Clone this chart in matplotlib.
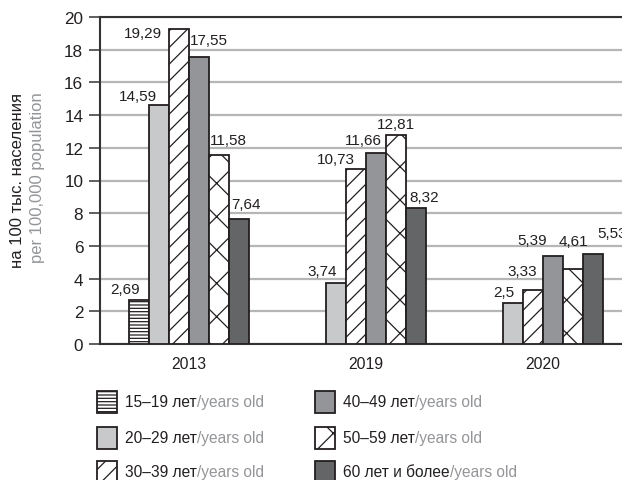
import numpy as np
import matplotlib
matplotlib.use("Agg")
import matplotlib.pyplot as plt
from matplotlib.patches import Rectangle

# ---------------- data ----------------
years = ["2013", "2019", "2020"]
series_ru = ["15–19 лет", "20–29 лет", "30–39 лет", "40–49 лет", "50–59 лет", "60 лет и более"]
series_en = "/years old"
values = {
    "15–19 лет":      [2.69, np.nan, np.nan],
    "20–29 лет":      [14.59, 3.74, 2.5],
    "30–39 лет":      [19.29, 10.73, 3.33],
    "40–49 лет":      [17.55, 11.66, 5.39],
    "50–59 лет":      [11.58, 12.81, 4.61],
    "60 лет и более": [7.64, 8.32, 5.53],
}
yticks = list(range(0, 21, 2))
ylabel_ru = "на 100 тыс. населения"
ylabel_en = "per 100,000 population"

# ---------------- style ----------------
plt.rcParams['font.family'] = ['Liberation Sans', 'DejaVu Sans']
plt.rcParams['hatch.linewidth'] = 0.9
BLACK = "#231f20"
GRAY_TXT = "#939598"
faces = ["white", "#c8c9cb", "white", "#939598", "white", "#646567"]
hatches = ["-----", None, "//", None, "x", None]

# label offsets (pixels) relative to bar top centre
label_offsets = [
    [(-14, 11), None, None],
    [(-21, 9), (-14, 12), (-9, 11)],
    [(-36, -4), (-20, 10), (-11, 19)],
    [(10, 17), (-13, 13), (-21, 16)],
    [(9, 15), (0, 11), (0, 28)],
    [(6.5, 15), (8, 11), (19, 21)],
]

W, H = 622, 481
fig = plt.figure(figsize=(W / 100, H / 100), dpi=100)
ax = fig.add_axes([100 / W, 136 / H, 532 / W, 327 / H])

x = np.arange(len(years))
bw = 20 / 177
n = len(series_ru)
for i, name in enumerate(series_ru):
    xs = x + (i - (n - 1) / 2) * bw
    vals = np.array(values[name], dtype=float)
    mask = ~np.isnan(vals)
    ax.bar(xs[mask], vals[mask], width=bw, color=faces[i], edgecolor=BLACK,
           linewidth=1.3, hatch=hatches[i], zorder=3)
    for j in range(len(years)):
        if not mask[j]:
            continue
        dx, dy = label_offsets[i][j]
        txt = ("%g" % vals[j]).replace(".", ",")
        ax.annotate(txt, xy=(xs[j], vals[j]), xytext=(dx, dy),
                    textcoords="offset pixels", ha="center", va="center",
                    fontsize=11, color=BLACK, zorder=5, annotation_clip=False)

ax.set_xlim(-0.503, 2.503)
ax.set_ylim(0, 20)
ax.set_yticks(yticks)
ax.set_yticklabels([str(t) for t in yticks], fontsize=12.3, color=BLACK)
ax.set_xticks(x)
ax.set_xticklabels(years, fontsize=11.3, color=BLACK)
ax.tick_params(axis="x", length=0, pad=9)
ax.tick_params(axis="y", length=8, width=1.2, color="#444444", pad=4)
ax.yaxis.grid(True, color="#b5b6b8", linewidth=1.6, zorder=0)
ax.set_axisbelow(True)
for s in ["left", "bottom", "top"]:
    ax.spines[s].set_color("#333333")
    ax.spines[s].set_linewidth(1.5)
ax.spines["right"].set_visible(False)

# y label (two colours)
fig.text(18 / W, 1 - 180 / H, ylabel_ru, rotation=90, ha="center", va="center",
         fontsize=12, color=BLACK)
fig.text(38 / W, 1 - 178 / H, ylabel_en, rotation=90, ha="center", va="center",
         fontsize=12, color=GRAY_TXT)

# legend (overlay in pixel coordinates)
lax = fig.add_axes([0, 0, 1, 1], zorder=10)
lax.set_xlim(0, W)
lax.set_ylim(H, 0)
lax.axis("off")
cols_x = [97, 315]
rows_y = [403, 439, 473]
for i, name in enumerate(series_ru):
    c, r = divmod(i, 3)
    hx, hy = cols_x[c], rows_y[r]
    lax.add_patch(Rectangle((hx, hy - 11), 20, 22, facecolor=faces[i],
                            edgecolor=BLACK, linewidth=1.3, hatch=hatches[i]))
    t1 = lax.text(cols_x[c] + 28, hy, name, ha="left", va="center",
                  fontsize=11.2, color=BLACK)
    lax.annotate(series_en, xy=(1, 0), xycoords=t1, ha="left", va="bottom",
                 fontsize=11.2, color=GRAY_TXT)

fig.savefig("out.png", dpi=100)
